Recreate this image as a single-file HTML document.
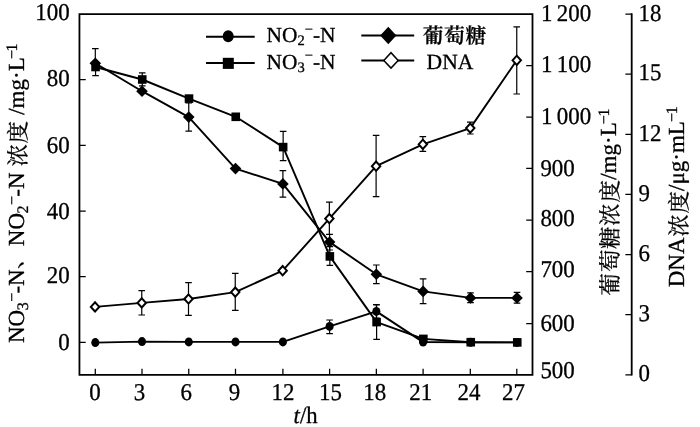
<!DOCTYPE html>
<html lang="zh">
<head>
<meta charset="utf-8">
<title>chart</title>
<style>
html,body{margin:0;padding:0;background:#fff;}
body{width:700px;height:427px;overflow:hidden;}
svg{display:block;}
text{font-family:"Liberation Serif","Noto Serif CJK SC",serif;fill:#000;text-rendering:geometricPrecision;stroke:#000;stroke-width:0.3px;stroke-linejoin:round;}
</style>
</head>
<body>
<svg width="700" height="427" viewBox="0 0 700 427">
<rect width="700" height="427" fill="#fff"/>
<g stroke="#000" fill="none">
<path d="M79.45 13.15V375.75M78.55 14.05H533.4M532.5 13.15V375.75M78.55 374.85H533.4M631.7 13.35V375.55" stroke-width="1.8"/>
<path d="M79.45 342.4h6.3M79.45 276.73h6.3M79.45 211.06h6.3M79.45 145.39h6.3M79.45 79.72h6.3M532.5 323.7h-6.3M532.5 271.7h-6.3M532.5 220.2h-6.3M532.5 168.3h-6.3M532.5 117h-6.3M532.5 65.5h-6.3M631.7 374.85h-6.3M631.7 314.72h-6.3M631.7 254.58h-6.3M631.7 194.45h-6.3M631.7 134.32h-6.3M631.7 74.18h-6.3M631.7 14.05h-6.3M95.3 374.85v-6.2M142 374.85v-6.2M188.75 374.85v-6.2M235.5 374.85v-6.2M282.9 374.85v-6.2M329.6 374.85v-6.2M376.35 374.85v-6.2M423.1 374.85v-6.2M470.3 374.85v-6.2M516.8 374.85v-6.2" stroke-width="1.25"/>
<path d="M95.55 67V75.6M92.25 75.6h6.6M142.25 79.5V72.9M138.95 72.9h6.6M142.25 79.5V85.9M138.95 85.9h6.6M283.15 147.1V131.4M279.85 131.4h6.6M283.15 147.1V160.7M279.85 160.7h6.6M329.85 256.4V246.6M326.55 246.6h6.6M329.85 256.4V265.3M326.55 265.3h6.6M376.6 322.1V304.9M373.3 304.9h6.6M376.6 322.1V339.3M373.3 339.3h6.6M95.3 63.2V48.7M92 48.7h6.6M188.75 117.1V103M185.45 103h6.6M188.75 117.1V131.1M185.45 131.1h6.6M282.9 183.9V170.7M279.6 170.7h6.6M282.9 183.9V197.1M279.6 197.1h6.6M329.6 242.1V234.3M326.3 234.3h6.6M329.6 242.1V250M326.3 250h6.6M376.35 274.3V265M373.05 265h6.6M376.35 274.3V283.6M373.05 283.6h6.6M423.1 291.4V278.9M419.8 278.9h6.6M423.1 291.4V303.6M419.8 303.6h6.6M470.5 297.9V292.9M467.2 292.9h6.6M470.5 297.9V302.6M467.2 302.6h6.6M517 297.9V292.4M513.7 292.4h6.6M517 297.9V303.1M513.7 303.1h6.6M329.6 326.4V320M326.3 320h6.6M329.6 326.4V333.6M326.3 333.6h6.6M376.35 311.4V304.7M373.05 304.7h6.6M376.35 311.4V318.1M373.05 318.1h6.6M141.75 302.9V290.7M138.45 290.7h6.6M141.75 302.9V315M138.45 315h6.6M188.5 299V282.6M185.2 282.6h6.6M188.5 299V315.4M185.2 315.4h6.6M235.25 292.1V273.3M231.95 273.3h6.6M235.25 292.1V310.4M231.95 310.4h6.6M329.35 218.6V202.1M326.05 202.1h6.6M329.35 218.6V234.3M326.05 234.3h6.6M376.1 166.2V135.4M372.8 135.4h6.6M376.1 166.2V196.7M372.8 196.7h6.6M422.85 144.3V136.7M419.55 136.7h6.6M422.85 144.3V151.4M419.55 151.4h6.6M470.25 128.1V122.1M466.95 122.1h6.6M470.25 128.1V134M466.95 134h6.6M516.75 60.3V26.9M513.45 26.9h6.6M516.75 60.3V94M513.45 94h6.6" stroke-width="1.2"/>
<path d="M95.3 342.6L142 341.6L188.75 341.9L235.5 341.9L282.9 341.9L329.6 326.4L376.35 311.4L423.1 342.1L470.5 342.2L517 342.4" stroke-width="1.9" stroke-linejoin="round"/>
<path d="M95.55 67L142.25 79.5L189 98.6L235.75 116.8L283.15 147.1L329.85 256.4L376.6 322.1L423.35 338.9L470.75 342.2L517.25 342.4" stroke-width="1.9" stroke-linejoin="round"/>
<path d="M95.3 63.2L142 91.2L188.75 117.1L235.5 168.6L282.9 183.9L329.6 242.1L376.35 274.3L423.1 291.4L470.5 297.9L517 297.9" stroke-width="1.9" stroke-linejoin="round"/>
<path d="M95.05 306.9L141.75 302.9L188.5 299L235.25 292.1L282.65 270.7L329.35 218.6L376.1 166.2L422.85 144.3L470.25 128.1L516.75 60.3" stroke-width="1.9" stroke-linejoin="round"/>
</g>
<g fill="#000">
<ellipse cx="95.3" cy="342.6" rx="4.05" ry="4.5"/>
<ellipse cx="142" cy="341.6" rx="4.05" ry="4.5"/>
<ellipse cx="188.75" cy="341.9" rx="4.05" ry="4.5"/>
<ellipse cx="235.5" cy="341.9" rx="4.05" ry="4.5"/>
<ellipse cx="282.9" cy="341.9" rx="4.05" ry="4.5"/>
<ellipse cx="329.6" cy="326.4" rx="4.05" ry="4.5"/>
<ellipse cx="376.35" cy="311.4" rx="4.05" ry="4.5"/>
<ellipse cx="423.1" cy="342.1" rx="4.05" ry="4.5"/>
<ellipse cx="470.5" cy="342.2" rx="4.05" ry="4.5"/>
<ellipse cx="517" cy="342.4" rx="4.05" ry="4.5"/>
<rect x="91.25" y="62.7" width="8.6" height="8.6"/>
<rect x="137.95" y="75.2" width="8.6" height="8.6"/>
<rect x="184.7" y="94.3" width="8.6" height="8.6"/>
<rect x="231.45" y="112.5" width="8.6" height="8.6"/>
<rect x="278.85" y="142.8" width="8.6" height="8.6"/>
<rect x="325.55" y="252.1" width="8.6" height="8.6"/>
<rect x="372.3" y="317.8" width="8.6" height="8.6"/>
<rect x="419.05" y="334.6" width="8.6" height="8.6"/>
<rect x="466.45" y="337.9" width="8.6" height="8.6"/>
<rect x="512.95" y="338.1" width="8.6" height="8.6"/>
<path d="M89.5 63.2L95.3 57.4L101.1 63.2L95.3 69Z"/>
<path d="M136.2 91.2L142 85.4L147.8 91.2L142 97Z"/>
<path d="M182.95 117.1L188.75 111.3L194.55 117.1L188.75 122.9Z"/>
<path d="M229.7 168.6L235.5 162.8L241.3 168.6L235.5 174.4Z"/>
<path d="M277.1 183.9L282.9 178.1L288.7 183.9L282.9 189.7Z"/>
<path d="M323.8 242.1L329.6 236.3L335.4 242.1L329.6 247.9Z"/>
<path d="M370.55 274.3L376.35 268.5L382.15 274.3L376.35 280.1Z"/>
<path d="M417.3 291.4L423.1 285.6L428.9 291.4L423.1 297.2Z"/>
<path d="M464.7 297.9L470.5 292.1L476.3 297.9L470.5 303.7Z"/>
<path d="M511.2 297.9L517 292.1L522.8 297.9L517 303.7Z"/>
</g>
<g fill="#fff" stroke="#000" stroke-width="2" stroke-linejoin="miter">
<path d="M90.85 306.9L95.05 302.3L99.25 306.9L95.05 311.5Z"/>
<path d="M137.55 302.9L141.75 298.3L145.95 302.9L141.75 307.5Z"/>
<path d="M184.3 299L188.5 294.4L192.7 299L188.5 303.6Z"/>
<path d="M231.05 292.1L235.25 287.5L239.45 292.1L235.25 296.7Z"/>
<path d="M278.45 270.7L282.65 266.1L286.85 270.7L282.65 275.3Z"/>
<path d="M325.15 218.6L329.35 214L333.55 218.6L329.35 223.2Z"/>
<path d="M371.9 166.2L376.1 161.6L380.3 166.2L376.1 170.8Z"/>
<path d="M418.65 144.3L422.85 139.7L427.05 144.3L422.85 148.9Z"/>
<path d="M466.05 128.1L470.25 123.5L474.45 128.1L470.25 132.7Z"/>
<path d="M512.55 60.3L516.75 55.7L520.95 60.3L516.75 64.9Z"/>
</g>
<g stroke="#000" stroke-width="2" fill="none"><path d="M206 36.7H254.7M206 63H254.7M361.3 35.5H414.2M361.3 60.4H414.2"/></g>
<ellipse cx="228.2" cy="36.2" rx="5.5" ry="6"/>
<rect x="222.8" y="57.8" width="11" height="11.1"/>
<path d="M380.2 35.5L388.3 26.7L396.4 35.5L388.3 44.3Z"/>
<path d="M383.8 60.4L391 52.7L398.2 60.4L391 68.1Z" fill="#fff" stroke="#000" stroke-width="1.5"/>
<text transform="translate(69.6 350) scale(0.95 1)" font-size="24.1" text-anchor="end">0</text>
<text transform="translate(69.6 283.2) scale(0.95 1)" font-size="24.1" text-anchor="end">20</text>
<text transform="translate(69.6 218.8) scale(0.95 1)" font-size="24.1" text-anchor="end">40</text>
<text transform="translate(69.6 152.6) scale(0.95 1)" font-size="24.1" text-anchor="end">60</text>
<text transform="translate(69.6 85.9) scale(0.95 1)" font-size="24.1" text-anchor="end">80</text>
<text transform="translate(69.6 20.2) scale(0.95 1)" font-size="24.1" text-anchor="end">100</text>
<text transform="translate(540.4 378.3) scale(0.95 1)" font-size="24.1" text-anchor="start">500</text>
<text transform="translate(540.4 330.7) scale(0.95 1)" font-size="24.1" text-anchor="start">600</text>
<text transform="translate(540.4 277.4) scale(0.95 1)" font-size="24.1" text-anchor="start">700</text>
<text transform="translate(540.4 226.4) scale(0.95 1)" font-size="24.1" text-anchor="start">800</text>
<text transform="translate(540.4 175.8) scale(0.95 1)" font-size="24.1" text-anchor="start">900</text>
<text transform="translate(541 123.9) scale(0.95 1)" font-size="24.1" text-anchor="start">1 <tspan dx="-1.45">000</tspan></text>
<text transform="translate(541 72.1) scale(0.95 1)" font-size="24.1" text-anchor="start">1 <tspan dx="-1.45">100</tspan></text>
<text transform="translate(541 21.1) scale(0.95 1)" font-size="24.1" text-anchor="start">1 <tspan dx="-1.45">200</tspan></text>
<text transform="translate(638.6 380.7) scale(0.95 1)" font-size="24.1" text-anchor="start">0</text>
<text transform="translate(638.6 321) scale(0.95 1)" font-size="24.1" text-anchor="start">3</text>
<text transform="translate(638.6 261) scale(0.95 1)" font-size="24.1" text-anchor="start">6</text>
<text transform="translate(638.6 201.1) scale(0.95 1)" font-size="24.1" text-anchor="start">9</text>
<text transform="translate(638.6 140.9) scale(0.95 1)" font-size="24.1" text-anchor="start">12</text>
<text transform="translate(638.6 80.4) scale(0.95 1)" font-size="24.1" text-anchor="start">15</text>
<text transform="translate(638.6 21.1) scale(0.95 1)" font-size="24.1" text-anchor="start">18</text>
<text transform="translate(94.9 400.3) scale(0.95 1)" font-size="24.1" text-anchor="middle">0</text>
<text transform="translate(139.4 400.3) scale(0.95 1)" font-size="24.1" text-anchor="middle">3</text>
<text transform="translate(186.3 400.3) scale(0.95 1)" font-size="24.1" text-anchor="middle">6</text>
<text transform="translate(234.4 400.3) scale(0.95 1)" font-size="24.1" text-anchor="middle">9</text>
<text transform="translate(283 400.3) scale(0.95 1)" font-size="24.1" text-anchor="middle">12</text>
<text transform="translate(330.4 400.3) scale(0.95 1)" font-size="24.1" text-anchor="middle">15</text>
<text transform="translate(374.8 400.3) scale(0.95 1)" font-size="24.1" text-anchor="middle">18</text>
<text transform="translate(420.7 400.3) scale(0.95 1)" font-size="24.1" text-anchor="middle">21</text>
<text transform="translate(469 400.3) scale(0.95 1)" font-size="24.1" text-anchor="middle">24</text>
<text transform="translate(513.4 400.3) scale(0.95 1)" font-size="24.1" text-anchor="middle">27</text>
<text transform="translate(293.6 423.1) scale(0.97 1)" font-size="23.4"><tspan font-style="italic">t</tspan>/h</text>
<text x="266.5" y="42.2" font-size="21.4">NO<tspan font-size="14.55" dy="3">2</tspan><tspan font-size="14.55" dy="-11.2">−</tspan><tspan dy="8.2">-N</tspan></text>
<text x="266.5" y="68.7" font-size="21.4">NO<tspan font-size="14.55" dy="3">3</tspan><tspan font-size="14.55" dy="-11.2">−</tspan><tspan dy="8.2">-N</tspan></text>
<text x="422.7" y="43.4" font-size="20.8" letter-spacing="0.6" font-weight="600" stroke-width="0.15">葡萄糖</text>
<text x="426.6" y="68.6" font-size="21.6">DNA</text>
<text transform="rotate(-90)"><tspan x="-343" y="23.7" font-size="23">NO</tspan><tspan x="-310.29" y="27.9" font-size="16">3</tspan><tspan x="-301.79" y="16.5" font-size="16">−</tspan><tspan x="-293.59" y="23.7" font-size="23">-N</tspan><tspan x="-268.9" y="22.3" font-size="22.5">、</tspan><tspan x="-246.2" y="23.7" font-size="23">NO</tspan><tspan x="-213.49" y="27.9" font-size="16">2</tspan><tspan x="-204.99" y="16.5" font-size="16">−</tspan><tspan x="-196.79" y="23.7" font-size="23">-N </tspan><tspan x="-166.6" y="26.3" font-size="22.5">浓</tspan><tspan x="-143.6" y="26.3" font-size="22.5">度 </tspan><tspan x="-114.8" y="23.7" font-size="23">/mg·L</tspan><tspan x="-59" y="16.7" font-size="16">−</tspan><tspan x="-51.4" y="16.7" font-size="16">1</tspan></text>
<text transform="rotate(-90)"><tspan x="-295.4" y="618.4" font-size="22.5">葡</tspan><tspan x="-272.1" y="618.4" font-size="22.5">萄</tspan><tspan x="-248.9" y="618.4" font-size="22.5">糖</tspan><tspan x="-226" y="618.4" font-size="22.5">浓</tspan><tspan x="-202.4" y="618.4" font-size="22.5">度</tspan><tspan x="-179.8" y="615.6" font-size="23">/mg·L</tspan><tspan x="-124.2" y="608.6" font-size="16">−</tspan><tspan x="-116.6" y="608.6" font-size="16">1</tspan></text>
<text transform="rotate(-90)"><tspan x="-287.3" y="684.4" font-size="23">DNA</tspan><tspan x="-236.8" y="686.6" font-size="22.5">浓</tspan><tspan x="-213.6" y="686.6" font-size="22.5">度</tspan><tspan x="-191" y="684.4" font-size="23">/μg·mL</tspan><tspan x="-122.1" y="677.4" font-size="16">−</tspan><tspan x="-114.3" y="677.4" font-size="16">1</tspan></text>
</svg>
</body>
</html>
